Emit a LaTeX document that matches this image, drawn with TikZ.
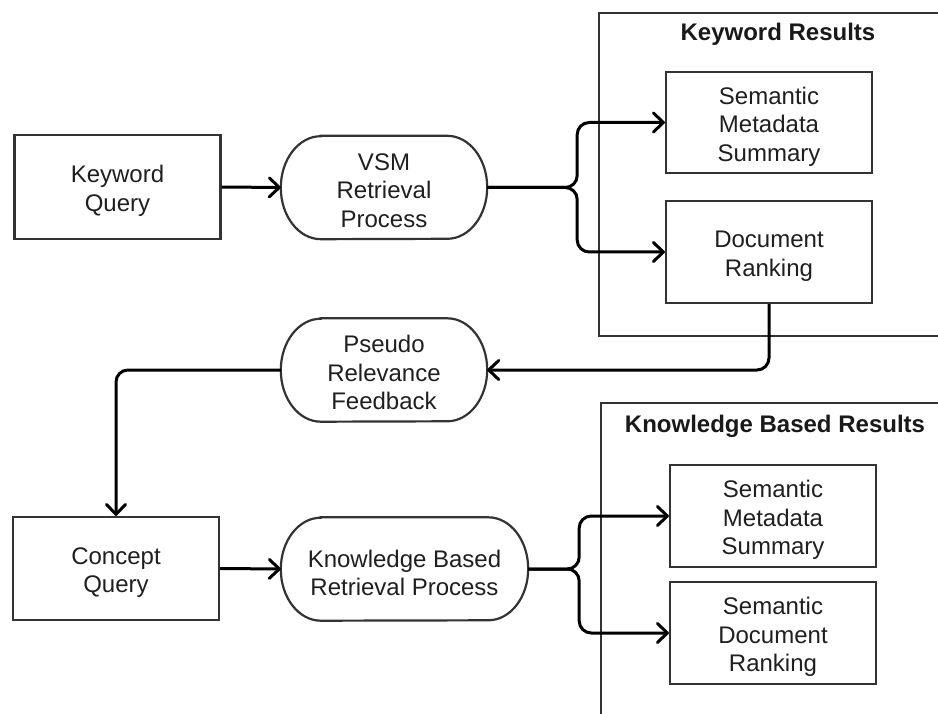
\documentclass[tikz,border=0pt]{standalone}
\usepackage{fontspec}
\setmainfont{Liberation Sans}
\usetikzlibrary{arrows.meta,calc}

% Stadium outline with elliptical ends around a (borderless) node
\newcommand\stadiumoutline[1]{%
  \draw[bord] ($(#1.north west)+(40pt,0pt)$) -- ($(#1.north east)+(-40pt,0pt)$)
    arc[start angle=90,end angle=-90,x radius=40pt,y radius=51.5pt]
    -- ($(#1.south west)+(40pt,0pt)$)
    arc[start angle=270,end angle=90,x radius=40pt,y radius=51.5pt] -- cycle;}
% tall struts on the first line: set the labels a little lower in their shapes
\newcommand\firstline{\rule{0pt}{25pt}}
\newcommand\firstlinep{\rule{0pt}{22.5pt}}

\begin{document}
\begin{tikzpicture}[x=1pt,y=-1pt,
  bord/.style={draw=black!80, line width=2.2pt},
  txt/.style={font=\fontsize{24}{28.5}\selectfont, text=black!88, align=center},
  boxnode/.style={bord, txt, minimum width=206pt, minimum height=102pt, inner sep=0pt},
  procnode/.style={txt, minimum height=103pt, inner sep=0pt},
  frame/.style={bord, anchor=north west, inner sep=0pt},
  title/.style={font=\fontsize{24}{28.5}\selectfont\bfseries, text=black!90},
  conn/.style={draw=black, line width=3pt, rounded corners=12pt,
    -{Straight Barb[length=10pt,width=19pt,line cap=round,line join=round]}}]

\clip (0,0) rectangle (938,714);
\fill[white] (0,0) rectangle (938,714);

% result frames (running off the right / bottom)
\node[frame, minimum width=370pt, minimum height=323pt] (kwframe) at (598,12) {};
\node[title] (kwtitle) at (778,34) {Keyword Results};
\node[frame, minimum width=370pt, minimum height=340pt] (kbframe) at (600,402) {};
\node[title] (kbtitle) at (775,426) {Knowledge Based Results};

% query boxes
\node[boxnode, minimum height=104pt] (kq) at (117.5,187) {\firstline Keyword\\Query};
\node[boxnode, minimum height=103pt] (cq) at (116,568.5) {\firstline Concept\\Query};

% processes
\node[procnode, minimum width=206pt] (vsm) at (384,187.5) {\firstlinep VSM\\Retrieval\\Process};
\stadiumoutline{vsm}
\node[procnode, minimum width=206pt] (prf) at (384,370) {\firstlinep Pseudo\\Relevance\\Feedback};
\stadiumoutline{prf}
\node[procnode, minimum width=247pt] (kbrp) at (404.5,569) {\firstline Knowledge Based\\Retrieval Process};
\stadiumoutline{kbrp}

% results
\node[boxnode, minimum height=101pt] (sms1) at (769,122.5) {\firstline Semantic\\Metadata\\Summary};
\node[boxnode] (dr) at (769,252) {\firstline Document\\Ranking};
\node[boxnode] (sms2) at (773,516) {\firstline Semantic\\Metadata\\Summary};
\node[boxnode] (sdr) at (773,633) {\firstline Semantic\\Document\\Ranking};

% branching points
\coordinate (forkA) at ($(vsm.east)+(90pt,0pt)$);
\coordinate (forkB) at ($(kbrp.east)+(51pt,0pt)$);

% connectors
\draw[conn] (kq.east) -- (vsm.west);
\draw[conn] (vsm.east) -- (forkA) |- (sms1.west);
\draw[conn] (vsm.east) -- (forkA) |- (dr.west);
\draw[conn] (dr.south) |- (prf.east);
\draw[conn] (prf.west) -| (cq.north);
\draw[conn] (cq.east) -- (kbrp.west);
\draw[conn] (kbrp.east) -- (forkB) |- (sms2.west);
\draw[conn] (kbrp.east) -- (forkB) |- (sdr.west);

\end{tikzpicture}
\end{document}
